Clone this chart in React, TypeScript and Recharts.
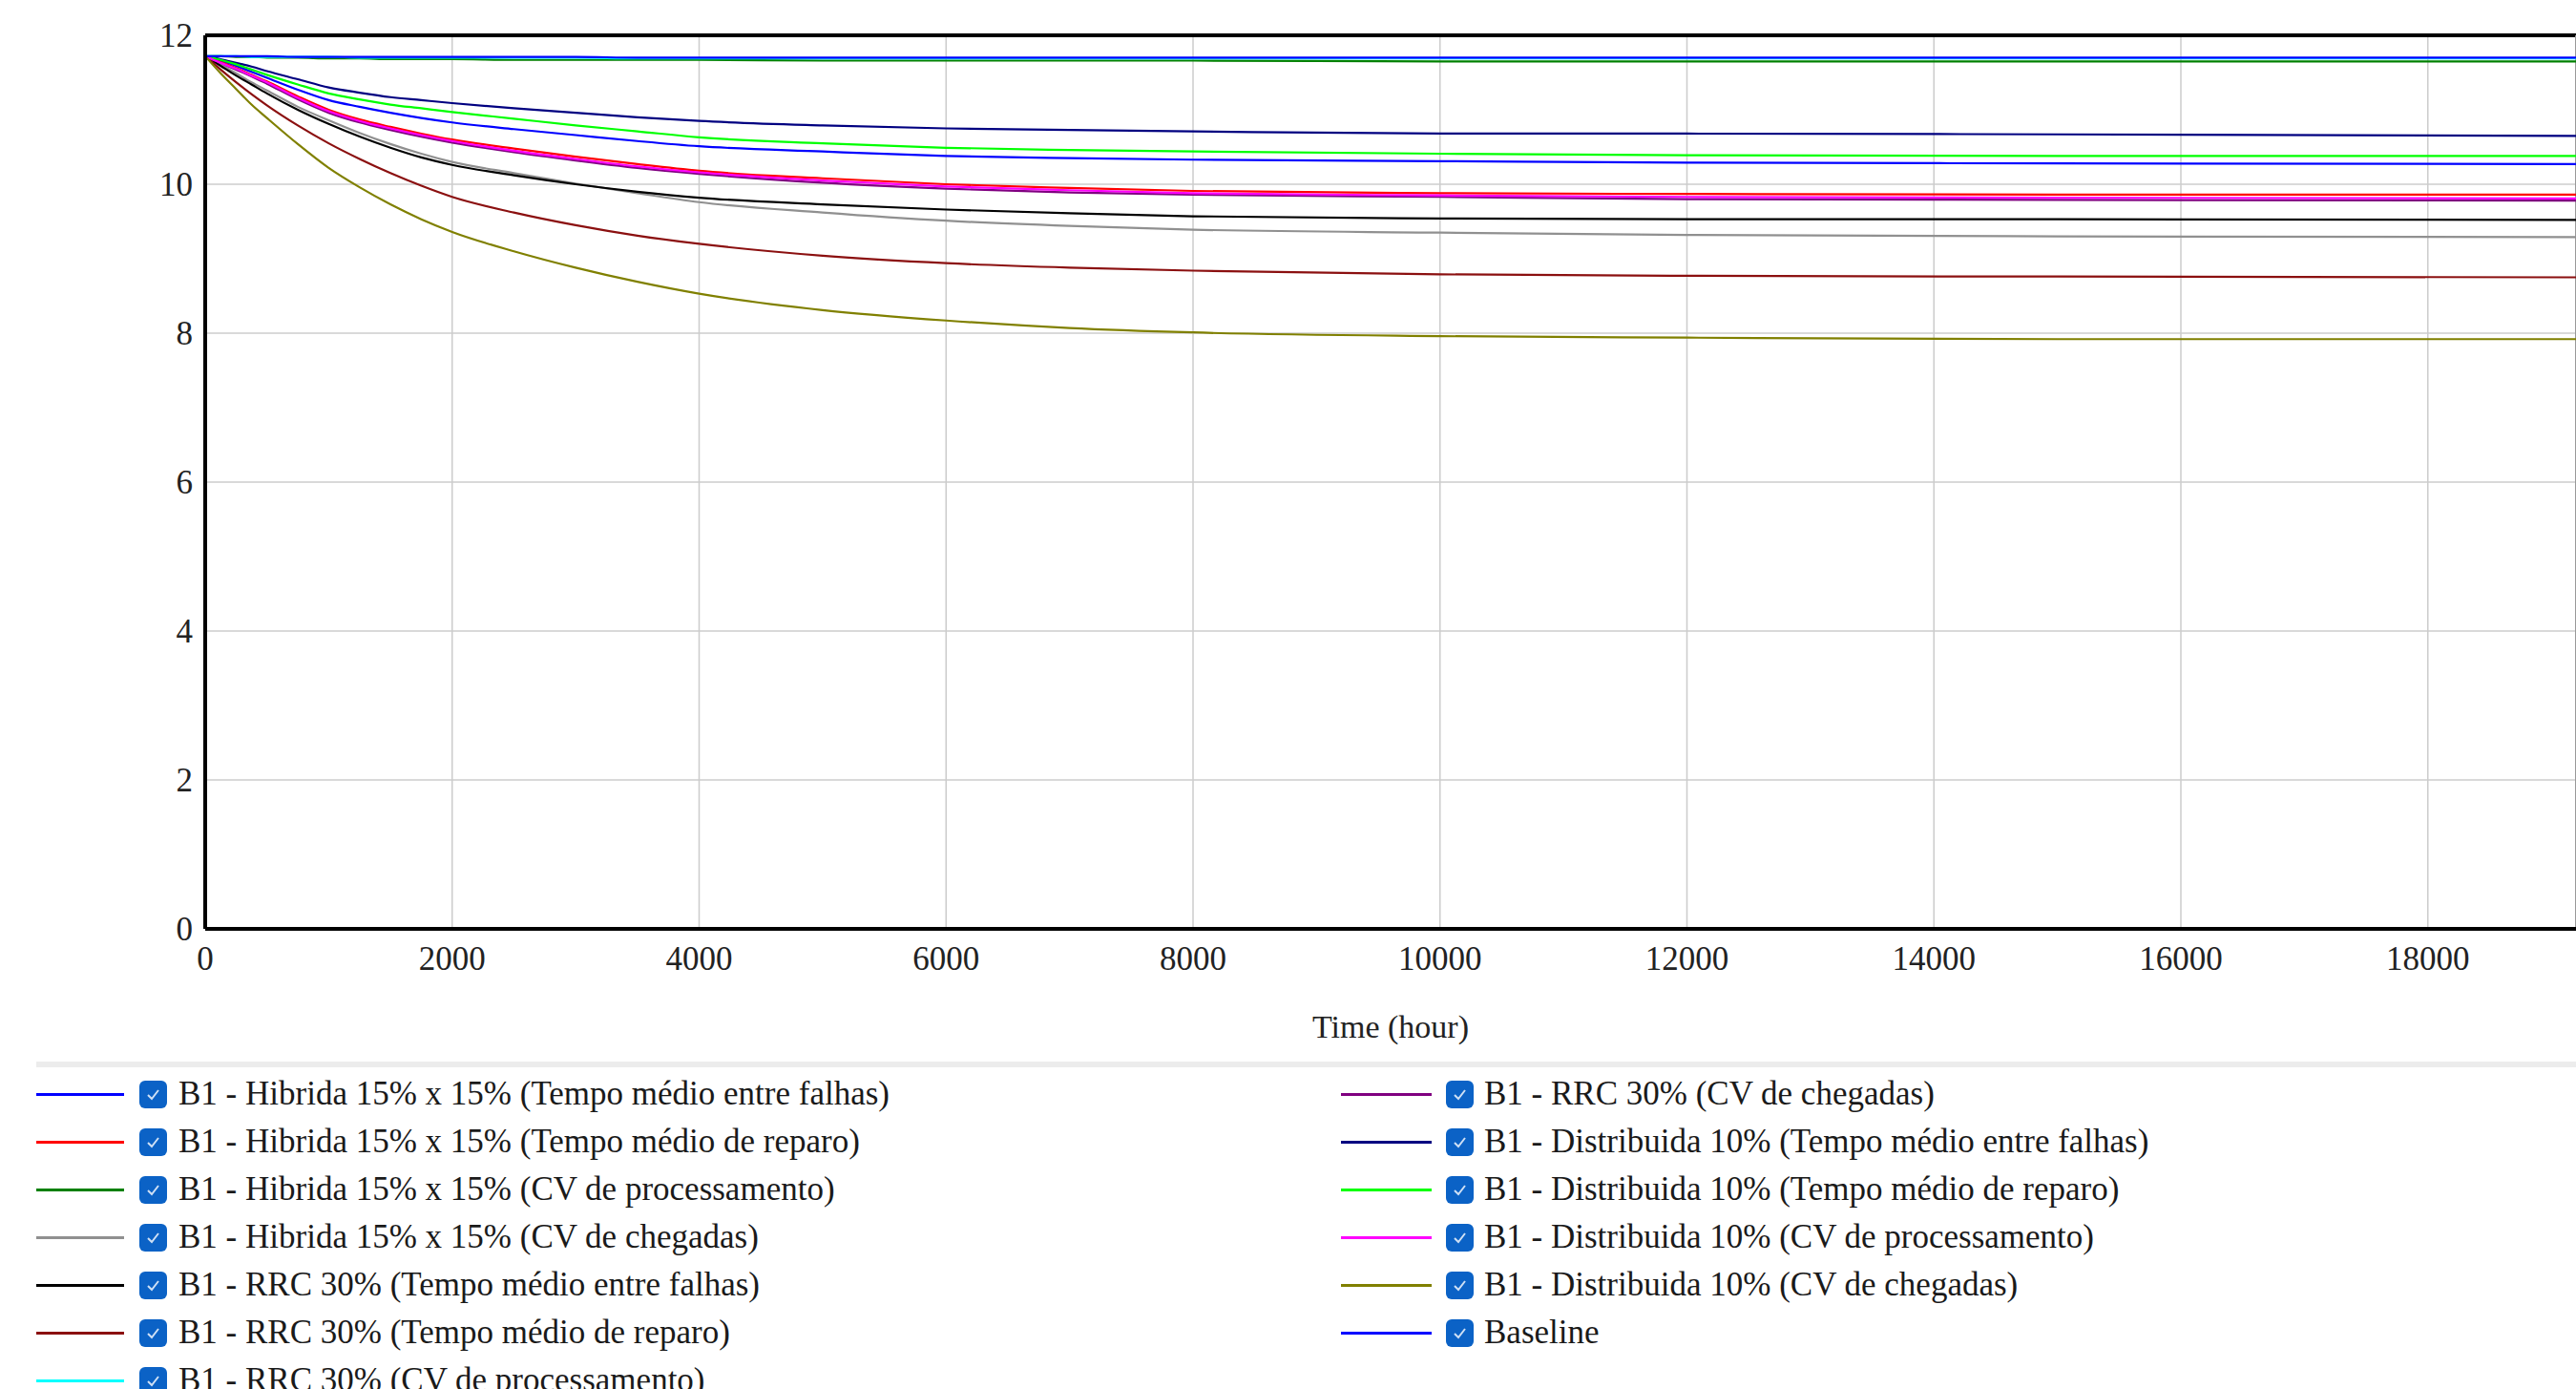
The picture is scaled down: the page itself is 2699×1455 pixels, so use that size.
import React from 'react';
import { LineChart, Line, XAxis, YAxis, CartesianGrid, ReferenceLine } from 'recharts';

// tempo simulado (horas)
const TIMES = [0, 125, 250, 375, 500, 750, 1000, 1250, 1500, 1750, 2000, 2500, 3000, 3500, 4000, 5000, 6000, 7000, 8000, 10000, 12000, 15000, 19200];

const HIBRIDA_TMEF = [11.72, 11.66, 11.59, 11.51, 11.43, 11.27, 11.13, 11.04, 10.96, 10.89, 10.83, 10.74, 10.66, 10.58, 10.51, 10.44, 10.38, 10.35, 10.33, 10.31, 10.29, 10.28, 10.27];
const HIBRIDA_TMR = [11.72, 11.64, 11.56, 11.47, 11.38, 11.18, 11.0, 10.87, 10.77, 10.68, 10.6, 10.48, 10.37, 10.27, 10.18, 10.08, 10.0, 9.95, 9.91, 9.88, 9.87, 9.86, 9.86];
const HIBRIDA_CVP = [11.72, 11.72, 11.71, 11.71, 11.7, 11.7, 11.69, 11.69, 11.68, 11.68, 11.68, 11.67, 11.67, 11.67, 11.67, 11.66, 11.66, 11.66, 11.66, 11.65, 11.65, 11.65, 11.65];
const HIBRIDA_CVC = [11.72, 11.61, 11.49, 11.37, 11.26, 11.04, 10.86, 10.69, 10.54, 10.41, 10.3, 10.15, 10.01, 9.88, 9.76, 9.62, 9.51, 9.44, 9.39, 9.35, 9.32, 9.3, 9.29];
const RRC_TMEF = [11.72, 11.59, 11.46, 11.34, 11.22, 11.0, 10.81, 10.64, 10.49, 10.36, 10.26, 10.12, 10.0, 9.9, 9.82, 9.73, 9.66, 9.61, 9.57, 9.54, 9.53, 9.53, 9.52];
const RRC_TMR = [11.72, 11.54, 11.37, 11.21, 11.06, 10.79, 10.55, 10.34, 10.15, 9.98, 9.83, 9.62, 9.45, 9.31, 9.2, 9.04, 8.94, 8.88, 8.84, 8.79, 8.77, 8.76, 8.75];
const RRC_CVP = [11.72, 11.72, 11.72, 11.71, 11.71, 11.71, 11.71, 11.7, 11.7, 11.7, 11.7, 11.7, 11.7, 11.69, 11.69, 11.69, 11.69, 11.69, 11.69, 11.69, 11.69, 11.69, 11.69];
const RRC_CVC = [11.72, 11.63, 11.54, 11.45, 11.35, 11.14, 10.96, 10.83, 10.73, 10.64, 10.56, 10.43, 10.32, 10.22, 10.14, 10.02, 9.94, 9.89, 9.86, 9.83, 9.8, 9.79, 9.78];
const DIST_TMEF = [11.72, 11.68, 11.63, 11.58, 11.52, 11.41, 11.3, 11.23, 11.17, 11.13, 11.09, 11.02, 10.96, 10.9, 10.85, 10.79, 10.75, 10.73, 10.71, 10.68, 10.68, 10.67, 10.65];
const DIST_TMR = [11.72, 11.67, 11.61, 11.54, 11.47, 11.34, 11.22, 11.14, 11.07, 11.02, 10.97, 10.88, 10.79, 10.71, 10.63, 10.55, 10.49, 10.46, 10.44, 10.41, 10.39, 10.38, 10.38];
const DIST_CVP = [11.72, 11.63, 11.55, 11.46, 11.37, 11.16, 10.98, 10.85, 10.75, 10.66, 10.58, 10.45, 10.34, 10.24, 10.16, 10.05, 9.97, 9.92, 9.88, 9.85, 9.83, 9.82, 9.81];
const DIST_CVC = [11.72, 11.49, 11.28, 11.07, 10.89, 10.54, 10.22, 9.96, 9.73, 9.53, 9.36, 9.1, 8.88, 8.69, 8.53, 8.31, 8.17, 8.07, 8.01, 7.96, 7.94, 7.92, 7.92];
const BASELINE = [11.72, 11.72, 11.72, 11.72, 11.72, 11.71, 11.71, 11.71, 11.71, 11.71, 11.71, 11.71, 11.71, 11.7, 11.7, 11.7, 11.7, 11.7, 11.7, 11.7, 11.7, 11.7, 11.7];

const X_TICKS = [0, 2000, 4000, 6000, 8000, 10000, 12000, 14000, 16000, 18000];
const Y_TICKS = [0, 2, 4, 6, 8, 10, 12];

const SERIES = [
    { key: 's1', name: 'B1 - Hibrida 15% x 15% (Tempo médio entre falhas)', color: '#0000ff', values: HIBRIDA_TMEF },
    { key: 's2', name: 'B1 - Hibrida 15% x 15% (Tempo médio de reparo)', color: '#ff0000', values: HIBRIDA_TMR },
    { key: 's3', name: 'B1 - Hibrida 15% x 15% (CV de processamento)', color: '#008000', values: HIBRIDA_CVP },
    { key: 's4', name: 'B1 - Hibrida 15% x 15% (CV de chegadas)', color: '#909090', values: HIBRIDA_CVC },
    { key: 's5', name: 'B1 - RRC 30% (Tempo médio entre falhas)', color: '#000000', values: RRC_TMEF },
    { key: 's6', name: 'B1 - RRC 30% (Tempo médio de reparo)', color: '#8b1010', values: RRC_TMR },
    { key: 's7', name: 'B1 - RRC 30% (CV de processamento)', color: '#00ffff', values: RRC_CVP },
    { key: 's8', name: 'B1 - RRC 30% (CV de chegadas)', color: '#800080', values: RRC_CVC },
    { key: 's9', name: 'B1 - Distribuida 10% (Tempo médio entre falhas)', color: '#000080', values: DIST_TMEF },
    { key: 's10', name: 'B1 - Distribuida 10% (Tempo médio de reparo)', color: '#00ff00', values: DIST_TMR },
    { key: 's11', name: 'B1 - Distribuida 10% (CV de processamento)', color: '#ff00ff', values: DIST_CVP },
    { key: 's12', name: 'B1 - Distribuida 10% (CV de chegadas)', color: '#808000', values: DIST_CVC },
    { key: 's13', name: 'Baseline', color: '#0000ff', values: BASELINE },
];

const SERIF = "'Liberation Serif', 'Times New Roman', serif";

const chartData = TIMES.map((t, i) => {
    const row: Record<string, number> = { t };
    SERIES.forEach(s => {
        row[s.key] = s.values[i];
    });
    return row;
});

const CheckBox = () => (
    <div
        style={{
            width: 29,
            height: 29,
            borderRadius: 6,
            background: '#0b62c6',
            display: 'flex',
            alignItems: 'center',
            justifyContent: 'center',
        }}
    >
        <svg width="17" height="17" viewBox="0 0 17 17">
            <polyline points="3,9 7,13 14,4" fill="none" stroke="#cfe0f5" strokeWidth="2" />
        </svg>
    </div>
);

const LegendColumn = ({ items, lineLeft, lineWidth, boxLeft, textLeft }: any) => (
    <>
        {items.map((s: any, i: number) => (
            <div
                key={s.key}
                style={{ position: 'absolute', top: 1121 + i * 50, left: 0, height: 50, width: 1300 }}
            >
                <div
                    style={{
                        position: 'absolute',
                        left: lineLeft,
                        top: 24,
                        width: lineWidth,
                        height: 3,
                        background: s.color,
                    }}
                />
                <div style={{ position: 'absolute', left: boxLeft, top: 11 }}>
                    <CheckBox />
                </div>
                <div
                    style={{
                        position: 'absolute',
                        left: textLeft,
                        top: 0,
                        height: 50,
                        lineHeight: '50px',
                        fontFamily: SERIF,
                        fontSize: 35,
                        color: '#1a1a1a',
                        whiteSpace: 'nowrap',
                    }}
                >
                    {s.name}
                </div>
            </div>
        ))}
    </>
);

export default function App() {
    return (
        <div
            style={{
                position: 'absolute',
                left: 0,
                top: 0,
                width: 2699,
                height: 1455,
                overflow: 'hidden',
                background: '#fff',
            }}
        >
            <LineChart
                width={2699}
                height={1110}
                data={chartData}
                margin={{ top: 37, right: 0, left: 0, bottom: 0 }}
            >
                <CartesianGrid stroke="#cccccc" strokeWidth={1.5} />
                <XAxis
                    dataKey="t"
                    type="number"
                    domain={[0, 19200]}
                    ticks={X_TICKS}
                    height={137}
                    tickSize={0}
                    tickMargin={18}
                    axisLine={{ stroke: '#000', strokeWidth: 4 }}
                    tick={{ fontSize: 35, fontFamily: SERIF, fill: '#222' }}
                    label={{
                        value: 'Time (hour)',
                        position: 'insideBottom',
                        offset: 23,
                        style: { fontSize: 34, fontFamily: SERIF, fill: '#222' },
                    }}
                />
                <YAxis
                    type="number"
                    domain={[0, 12]}
                    ticks={Y_TICKS}
                    width={215}
                    tickSize={0}
                    tickMargin={13}
                    axisLine={{ stroke: '#000', strokeWidth: 4 }}
                    tick={{ fontSize: 35, fontFamily: SERIF, fill: '#222' }}
                />
                <ReferenceLine y={12} stroke="#000" strokeWidth={4} />
                <ReferenceLine x={19200} stroke="#999" strokeWidth={2} />
                {SERIES.map(s => (
                    <Line
                        key={s.key}
                        type="monotone"
                        dataKey={s.key}
                        name={s.name}
                        stroke={s.color}
                        strokeWidth={2.2}
                        dot={false}
                        isAnimationActive={false}
                    />
                ))}
            </LineChart>
            <div
                style={{
                    position: 'absolute',
                    left: 38,
                    top: 1112,
                    width: 2661,
                    height: 6,
                    background: '#ececec',
                }}
            />
            <LegendColumn items={SERIES.slice(0, 7)} lineLeft={38} lineWidth={92} boxLeft={146} textLeft={187} />
            <LegendColumn items={SERIES.slice(7)} lineLeft={1405} lineWidth={95} boxLeft={1515} textLeft={1555} />
        </div>
    );
}
